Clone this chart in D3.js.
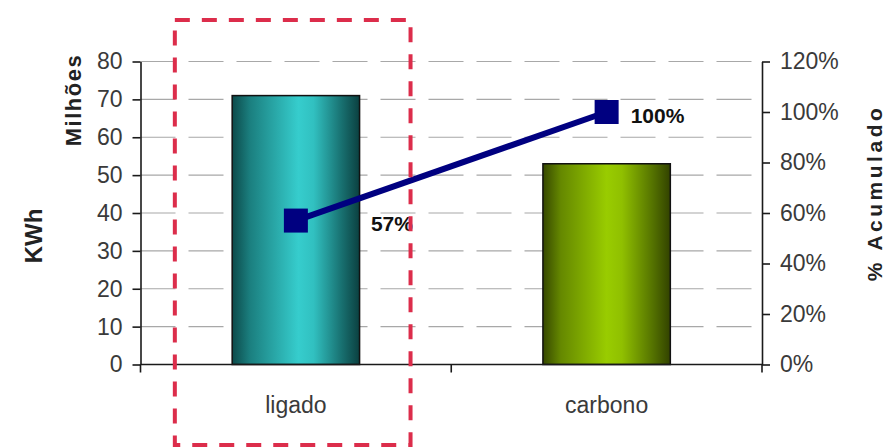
<!DOCTYPE html>
<html>
<head>
<meta charset="utf-8">
<script src="https://cdn.jsdelivr.net/npm/d3@7"></script>
<style>
  html, body { margin: 0; padding: 0; background: #fff; }
  svg { display: block; }
</style>
</head>
<body>
<svg id="chart" width="885" height="448"></svg>
<script>
// ---- data ----
const categories = ["ligado", "carbono"];
const kwhMillions = [71, 53];
const cumulativePct = [0.57, 1.00];
const cumulativeLabels = ["57%", "100%"];
const leftTicks = [0, 10, 20, 30, 40, 50, 60, 70, 80];
const rightTicks = [0, 0.2, 0.4, 0.6, 0.8, 1.0, 1.2];

// ---- layout / style ----
const W = 885, H = 448;
const plot = { left: 140.5, right: 762, top: 61.5, bottom: 364.5 };
const labelDx = [75, 24];
const font = "'Liberation Sans', Arial, Helvetica, sans-serif";

const svg = d3.select("#chart");
svg.append("rect").attr("width", W).attr("height", H).attr("fill", "#fff");

const x = d3.scaleBand().domain(categories)
  .range([plot.left, plot.right]).paddingInner(0.59).paddingOuter(0.295);
const yL = d3.scaleLinear().domain([0, 80]).range([plot.bottom, plot.top]);
const yR = d3.scaleLinear().domain([0, 1.2]).range([plot.bottom, plot.top]);

// gradients
const defs = svg.append("defs");
const grads = [
  ["g0", [[0, "#0c4a4a"], [0.14, "#1b7f7f"], [0.52, "#36cdcd"], [0.64, "#31c0c0"], [0.86, "#187070"], [1, "#0b4040"]]],
  ["g1", [[0, "#364800"], [0.14, "#658800"], [0.5, "#99cc00"], [0.62, "#90c000"], [0.86, "#557300"], [1, "#324200"]]]
];
grads.forEach(([id, stops]) => {
  const g = defs.append("linearGradient").attr("id", id)
    .attr("x1", "0%").attr("x2", "100%").attr("y1", "0%").attr("y2", "0%");
  stops.forEach(([o, c]) => g.append("stop").attr("offset", o).attr("stop-color", c));
});

// gridlines
svg.append("g").selectAll("line")
  .data(leftTicks.filter(d => d > 0))
  .join("line")
  .attr("x1", plot.left).attr("x2", plot.right)
  .attr("y1", d => yL(d)).attr("y2", d => yL(d))
  .attr("stroke", "#a8a8a8").attr("stroke-width", 1.2)
  .attr("stroke-dasharray", "35,13");

// bars
svg.append("g").selectAll("rect")
  .data(categories)
  .join("rect")
  .attr("x", d => x(d))
  .attr("width", x.bandwidth())
  .attr("y", (d, i) => yL(kwhMillions[i]))
  .attr("height", (d, i) => yL(0) - yL(kwhMillions[i]))
  .attr("fill", (d, i) => `url(#g${i})`)
  .attr("stroke", "#111").attr("stroke-width", 1.5);

// axes
const axisColor = "#1a1a1a";
const textColor = "#3a3a3a";
function styleAxis(g) {
  g.selectAll("path.domain").attr("stroke", axisColor).attr("stroke-width", 1.6);
  g.selectAll(".tick line").attr("stroke", axisColor).attr("stroke-width", 1.6);
  g.selectAll("text").attr("font-family", font).attr("font-size", 23).attr("fill", textColor);
}

const gL = svg.append("g").attr("transform", `translate(${plot.left},0)`)
  .call(d3.axisLeft(yL).tickValues(leftTicks).tickSize(8).tickSizeOuter(0).tickPadding(10));
styleAxis(gL);

const gR = svg.append("g").attr("transform", `translate(${plot.right},0)`)
  .call(d3.axisRight(yR).tickValues(rightTicks).tickFormat(d3.format(".0%")).tickSize(8).tickSizeOuter(0).tickPadding(10));
styleAxis(gR);

const gX = svg.append("g").attr("transform", `translate(0,${plot.bottom})`)
  .call(d3.axisBottom(x).tickSize(0).tickSizeOuter(0).tickPadding(32));
styleAxis(gX);
gX.select("path.domain").attr("d", `M${plot.left},0H${plot.right}`);

// category boundary ticks
const step = x.step();
const bounds = d3.range(categories.length + 1).map(i => plot.left + i * step);
svg.append("g").selectAll("line").data(bounds).join("line")
  .attr("x1", d => d).attr("x2", d => d)
  .attr("y1", plot.bottom).attr("y2", plot.bottom + 8)
  .attr("stroke", axisColor).attr("stroke-width", 1.6);

// axis titles
svg.append("text")
  .attr("transform", `translate(42,236) rotate(-90)`)
  .attr("text-anchor", "middle")
  .attr("font-family", font).attr("font-weight", "bold").attr("font-size", 24)
  .attr("fill", "#222").text("KWh");
svg.append("text")
  .attr("transform", `translate(81,100) rotate(-90)`)
  .attr("text-anchor", "middle")
  .attr("font-family", font).attr("font-weight", "bold").attr("font-size", 22)
  .attr("letter-spacing", 1.5)
  .attr("fill", "#222").text("Milhões");
svg.append("text")
  .attr("transform", `translate(882,193) rotate(-90)`)
  .attr("text-anchor", "middle")
  .attr("font-family", font).attr("font-weight", "bold").attr("font-size", 21)
  .attr("letter-spacing", 3.5)
  .attr("fill", "#222").text("% Acumulado");

// cumulative line
const cx = d => x(d) + x.bandwidth() / 2;
const line = d3.line().x(d => cx(d)).y((d, i) => yR(cumulativePct[i]));
svg.append("path").datum(categories)
  .attr("d", line)
  .attr("fill", "none").attr("stroke", "#000080").attr("stroke-width", 6);
const ms = 24;
svg.append("g").selectAll("rect").data(categories).join("rect")
  .attr("x", d => cx(d) - ms / 2)
  .attr("y", (d, i) => yR(cumulativePct[i]) - ms / 2)
  .attr("width", ms).attr("height", ms)
  .attr("fill", "#000080");

svg.append("g").selectAll("text").data(categories).join("text")
  .attr("x", (d, i) => cx(d) + labelDx[i])
  .attr("y", (d, i) => yR(cumulativePct[i]) + 3)
  .attr("dy", "0.36em")
  .attr("font-family", font).attr("font-weight", "bold").attr("font-size", 21)
  .attr("fill", "#111")
  .text((d, i) => cumulativeLabels[i]);

// red dashed highlight around first category
const bw = x.bandwidth();
const hx0 = x(categories[0]) - 0.45 * bw;
const hx1 = x(categories[0]) + 1.4 * bw;
svg.append("rect")
  .attr("x", hx0).attr("y", 20)
  .attr("width", hx1 - hx0).attr("height", 425)
  .attr("fill", "none")
  .attr("stroke", "#dc2d4b").attr("stroke-width", 4)
  .attr("stroke-dasharray", "15,12");
</script>
</body>
</html>
